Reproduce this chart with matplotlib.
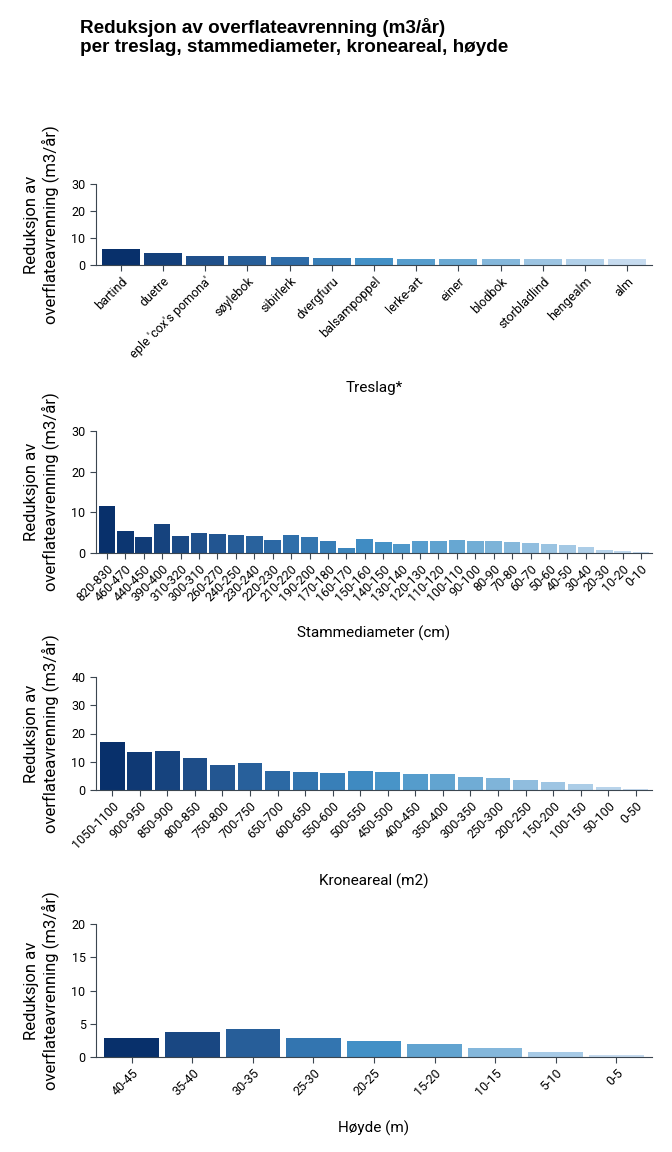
import matplotlib.pyplot as plt
from matplotlib.colors import LinearSegmentedColormap
import numpy as np

plt.rcParams['font.family'] = ['Roboto', 'DejaVu Sans']

# treslag
treslag = ["bartind", "duetre", "eple 'cox's pomona'", "søylebok", "sibirlerk",
           "dvergfuru", "balsampoppel", "lerke-art", "einer", "blodbok",
           "storbladlind", "hengealm", "alm"]
treslag_val = [6.05, 4.6, 3.45, 3.45, 3.1, 2.7, 2.7, 2.35, 2.35, 2.35, 2.35, 2.35, 2.35]

# stammediameter
stamme = ["820-830", "460-470", "440-450", "390-400", "310-320", "300-310", "260-270",
          "240-250", "230-240", "220-230", "210-220", "190-200", "170-180", "160-170",
          "150-160", "140-150", "130-140", "120-130", "110-120", "100-110", "90-100",
          "80-90", "70-80", "60-70", "50-60", "40-50", "30-40", "20-30", "10-20", "0-10"]
stamme_val = [11.6, 5.5, 4.0, 7.2, 4.2, 5.0, 4.7, 4.5, 4.2, 3.3, 4.5, 4.0, 3.0, 1.3,
              3.5, 2.8, 2.3, 3.0, 3.0, 3.3, 3.0, 3.0, 2.8, 2.5, 2.3, 2.0, 1.5, 0.8, 0.6, 0.3]

# kroneareal
krone = ["1050-1100", "900-950", "850-900", "800-850", "750-800", "700-750", "650-700",
         "600-650", "550-600", "500-550", "450-500", "400-450", "350-400", "300-350",
         "250-300", "200-250", "150-200", "100-150", "50-100", "0-50"]
krone_val = [17.0, 13.5, 13.8, 11.4, 8.9, 9.6, 6.7, 6.4, 6.0, 6.7, 6.4, 5.7, 5.7, 4.6,
             4.3, 3.6, 2.8, 2.1, 1.1, 0.4]

# hoyde
hoyde = ["40-45", "35-40", "30-35", "25-30", "20-25", "15-20", "10-15", "5-10", "0-5"]
hoyde_val = [2.9, 3.8, 4.2, 2.9, 2.4, 2.0, 1.4, 0.75, 0.3]

blues = LinearSegmentedColormap.from_list(
    'blues', ['#08306b', '#1f4f8a', '#2e6ca8', '#4290c6', '#6aa9d3', '#9cc4e2', '#c6dbef'])

W, H = 672, 1152
fig = plt.figure(figsize=(W / 100, H / 100), dpi=100)

spine_col = '#3b4650'
panels = [
    (treslag, treslag_val, [0, 10, 20, 30], 30, "Treslag*", 184, 265, 388),
    (stamme, stamme_val, [0, 10, 20, 30], 30, "Stammediameter (cm)", 431, 553, 633),
    (krone, krone_val, [0, 10, 20, 30, 40], 40, "Kroneareal (m2)", 677, 790, 881),
    (hoyde, hoyde_val, [0, 5, 10, 15, 20], 20, "Høyde (m)", 924, 1057, 1128),
]

left, right = 96, 652
for labels, vals, yt, ymax, xlab, top, bot, xly in panels:
    ax = fig.add_axes([left / W, 1 - bot / H, (right - left) / W, (bot - top) / H])
    n = len(vals)
    cols = blues(np.linspace(0, 1, n))
    ax.bar(np.arange(n), vals, width=0.9, color=cols)
    ax.set_xlim(-0.59, n - 0.41)
    ax.set_ylim(0, ymax)
    ax.set_yticks(yt)
    ax.set_xticks(np.arange(n))
    ax.set_xticklabels(labels, rotation=45, ha='right', rotation_mode='anchor', fontsize=9)
    ax.tick_params(axis='y', labelsize=9, length=4, color=spine_col)
    ax.tick_params(axis='x', length=4, color=spine_col, pad=3)
    for s in ['top', 'right']:
        ax.spines[s].set_visible(False)
    for s in ['left', 'bottom']:
        ax.spines[s].set_color(spine_col)
    ax.set_ylabel("Reduksjon av\noverflateavrenning (m3/år)", fontsize=12)
    ax.yaxis.set_label_coords(-0.066, 0.5)
    fig.text((left + right) / 2 / W, 1 - xly / H, xlab, ha='center', va='center', fontsize=11)

fig.text(80 / W, 1 - 37 / H, "Reduksjon av overflateavrenning (m3/år)\nper treslag, stammediameter, kroneareal, høyde",
         ha='left', va='center', fontsize=13.6, fontweight='bold', family='Liberation Sans',
         linespacing=1.1)

fig.savefig("out.png", dpi=100)
